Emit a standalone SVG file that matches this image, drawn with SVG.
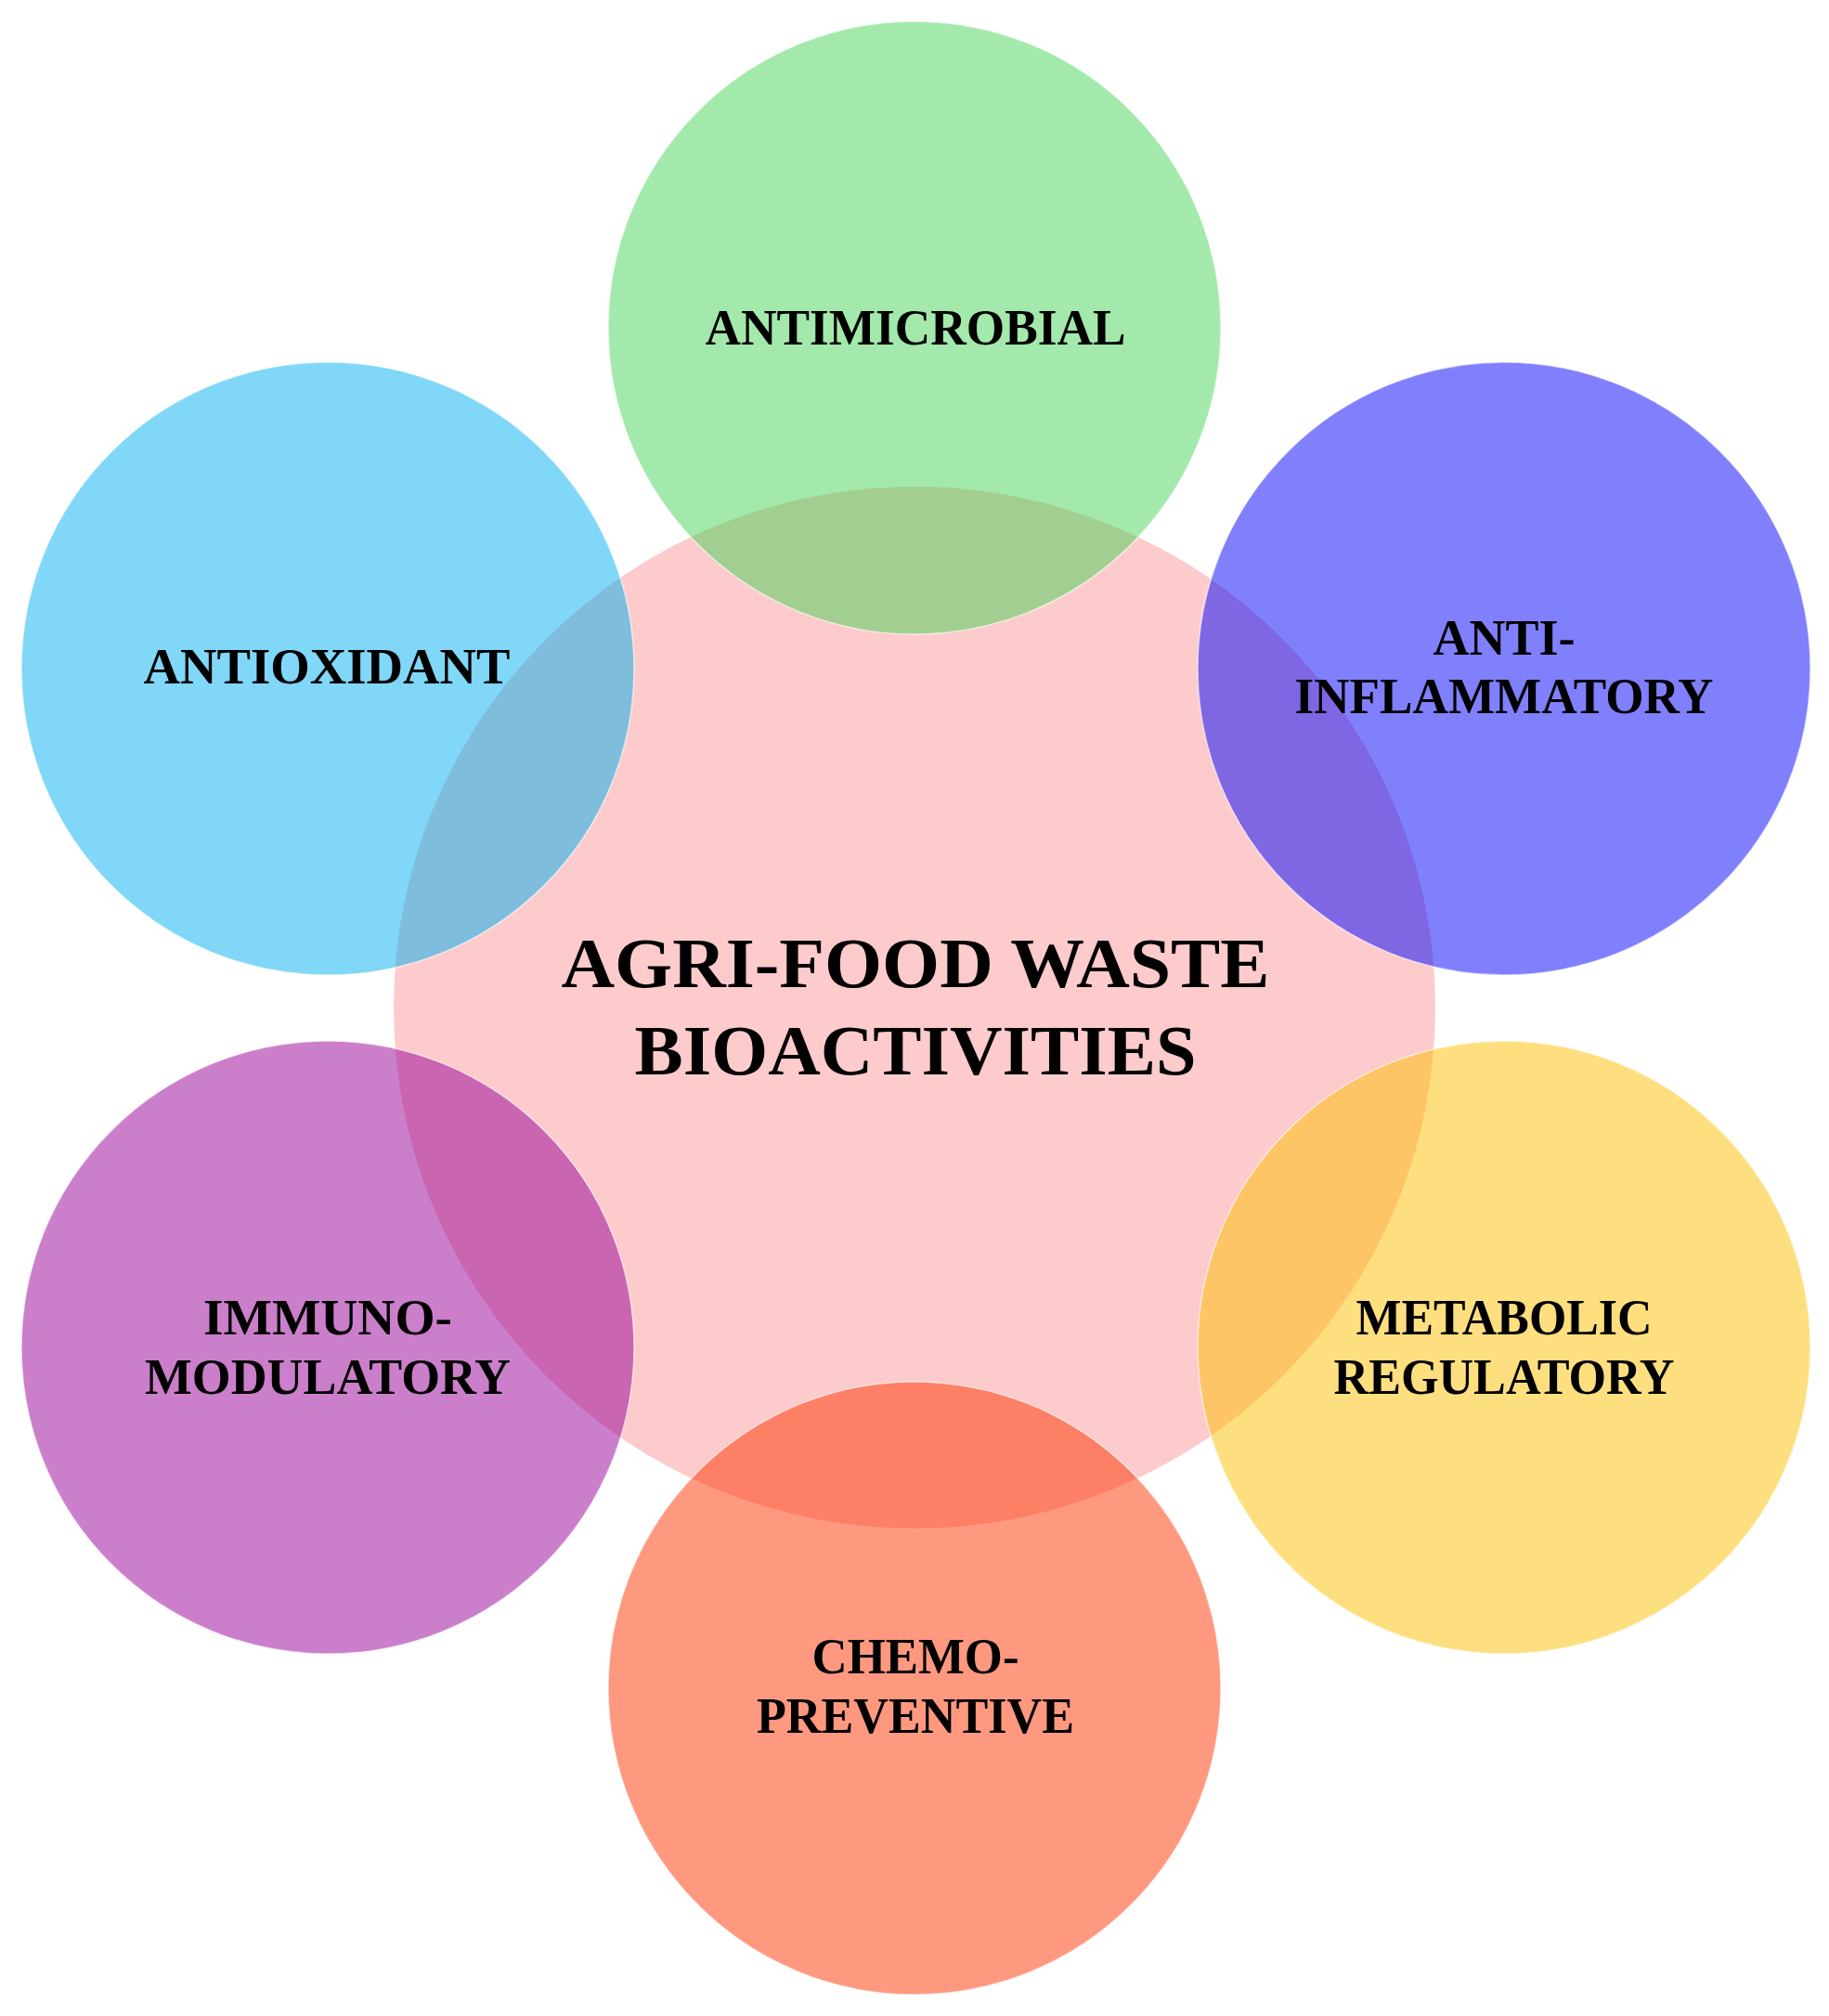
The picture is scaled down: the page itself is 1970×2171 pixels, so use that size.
<svg xmlns="http://www.w3.org/2000/svg" width="1970" height="2171" viewBox="0 0 1970 2171">
<style>
.c{fill-opacity:0.5;stroke:#ffffff;stroke-opacity:0.6;stroke-width:1.5}
.t{font-family:"Liberation Serif","Times New Roman",serif;font-weight:bold;font-size:54px;fill:#000;text-anchor:middle}
.tc{font-family:"Liberation Serif","Times New Roman",serif;font-weight:bold;font-size:76px;fill:#000;text-anchor:middle}
</style>
<rect width="1970" height="2171" fill="#ffffff"/>
<g id="center">
<circle cx="985" cy="1085" r="561" fill="#FDCBCB"/>
</g>
<g id="antimicrobial">
<circle class="c" cx="985" cy="353" r="330" fill="#47D357"/>
<text class="t" x="986" y="371" textLength="453" lengthAdjust="spacingAndGlyphs">ANTIMICROBIAL</text>
</g>
<g id="antioxidant">
<circle class="c" cx="353" cy="720" r="330" fill="#01AFEF"/>
<text class="t" x="352" y="736" textLength="395" lengthAdjust="spacingAndGlyphs">ANTIOXIDANT</text>
</g>
<g id="antiinflammatory">
<circle class="c" cx="1620" cy="720" r="330" fill="#0101FB"/>
<text class="t" x="1620" y="705" textLength="153" lengthAdjust="spacingAndGlyphs">ANTI-</text>
<text class="t" x="1620" y="768" textLength="451" lengthAdjust="spacingAndGlyphs">INFLAMMATORY</text>
</g>
<g id="immunomodulatory">
<circle class="c" cx="353" cy="1451" r="330" fill="#970097"/>
<text class="t" x="353" y="1437" textLength="268" lengthAdjust="spacingAndGlyphs">IMMUNO-</text>
<text class="t" x="353" y="1501" textLength="394" lengthAdjust="spacingAndGlyphs">MODULATORY</text>
</g>
<g id="metabolic">
<circle class="c" cx="1620" cy="1451" r="330" fill="#FDBF01"/>
<text class="t" x="1620" y="1437" textLength="319" lengthAdjust="spacingAndGlyphs">METABOLIC</text>
<text class="t" x="1620" y="1501" textLength="367" lengthAdjust="spacingAndGlyphs">REGULATORY</text>
</g>
<g id="chemopreventive">
<circle class="c" cx="985" cy="1818" r="330" fill="#FD3301"/>
<text class="t" x="986" y="1802" textLength="223" lengthAdjust="spacingAndGlyphs">CHEMO-</text>
<text class="t" x="986" y="1866" textLength="342" lengthAdjust="spacingAndGlyphs">PREVENTIVE</text>
</g>
<g id="center-label">
<text class="tc" x="986" y="1063" textLength="763" lengthAdjust="spacingAndGlyphs">AGRI-FOOD WASTE</text>
<text class="tc" x="986" y="1157" textLength="605" lengthAdjust="spacingAndGlyphs">BIOACTIVITIES</text>
</g>
<g id="connectors"></g>
</svg>
